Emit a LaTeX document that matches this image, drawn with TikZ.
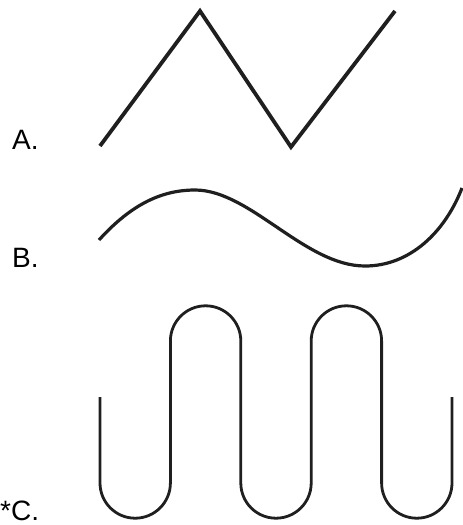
\documentclass[tikz,border=0pt]{standalone}
\usepackage{fontspec}
\setmainfont{Liberation Sans}
\tikzset{wave/.style={draw,line width=2.2pt,black!88},
 lbl/.style={anchor=base west,inner sep=0pt,font=\fontsize{28}{30}\selectfont}}
\begin{document}
\begin{tikzpicture}[x=1pt,y=-1pt]
\useasboundingbox (0,0) rectangle (463,525);
\node[lbl](la) at (12,149){A.};\node[lbl](lb) at (12,267){B.};\node[lbl](lc) at (0,520){*C.};
% A: triangle wave
\draw[wave,line width=3.8pt] (100,146) -- (200,11) -- (291,147) -- (395,11);
% B: sine-like curve
\draw[wave,line width=3.2pt] (99,240) .. controls (128,208) and (158,190) .. (195,190)
 .. controls (250,190) and (305,266) .. (365,266) .. controls (410,266) and (445,232) .. (462,188);
% C: square-ish wave with round turns
\draw[wave,line width=2.8pt] (100,397) -- (100,483)
 \foreach \i in {1,2}{arc(180:0:35.2) -- ++(0,-142) arc(180:360:35.2) -- ++(0,142)}
 arc(180:0:35.2) -- ++(0,-86);
\end{tikzpicture}
\end{document}
